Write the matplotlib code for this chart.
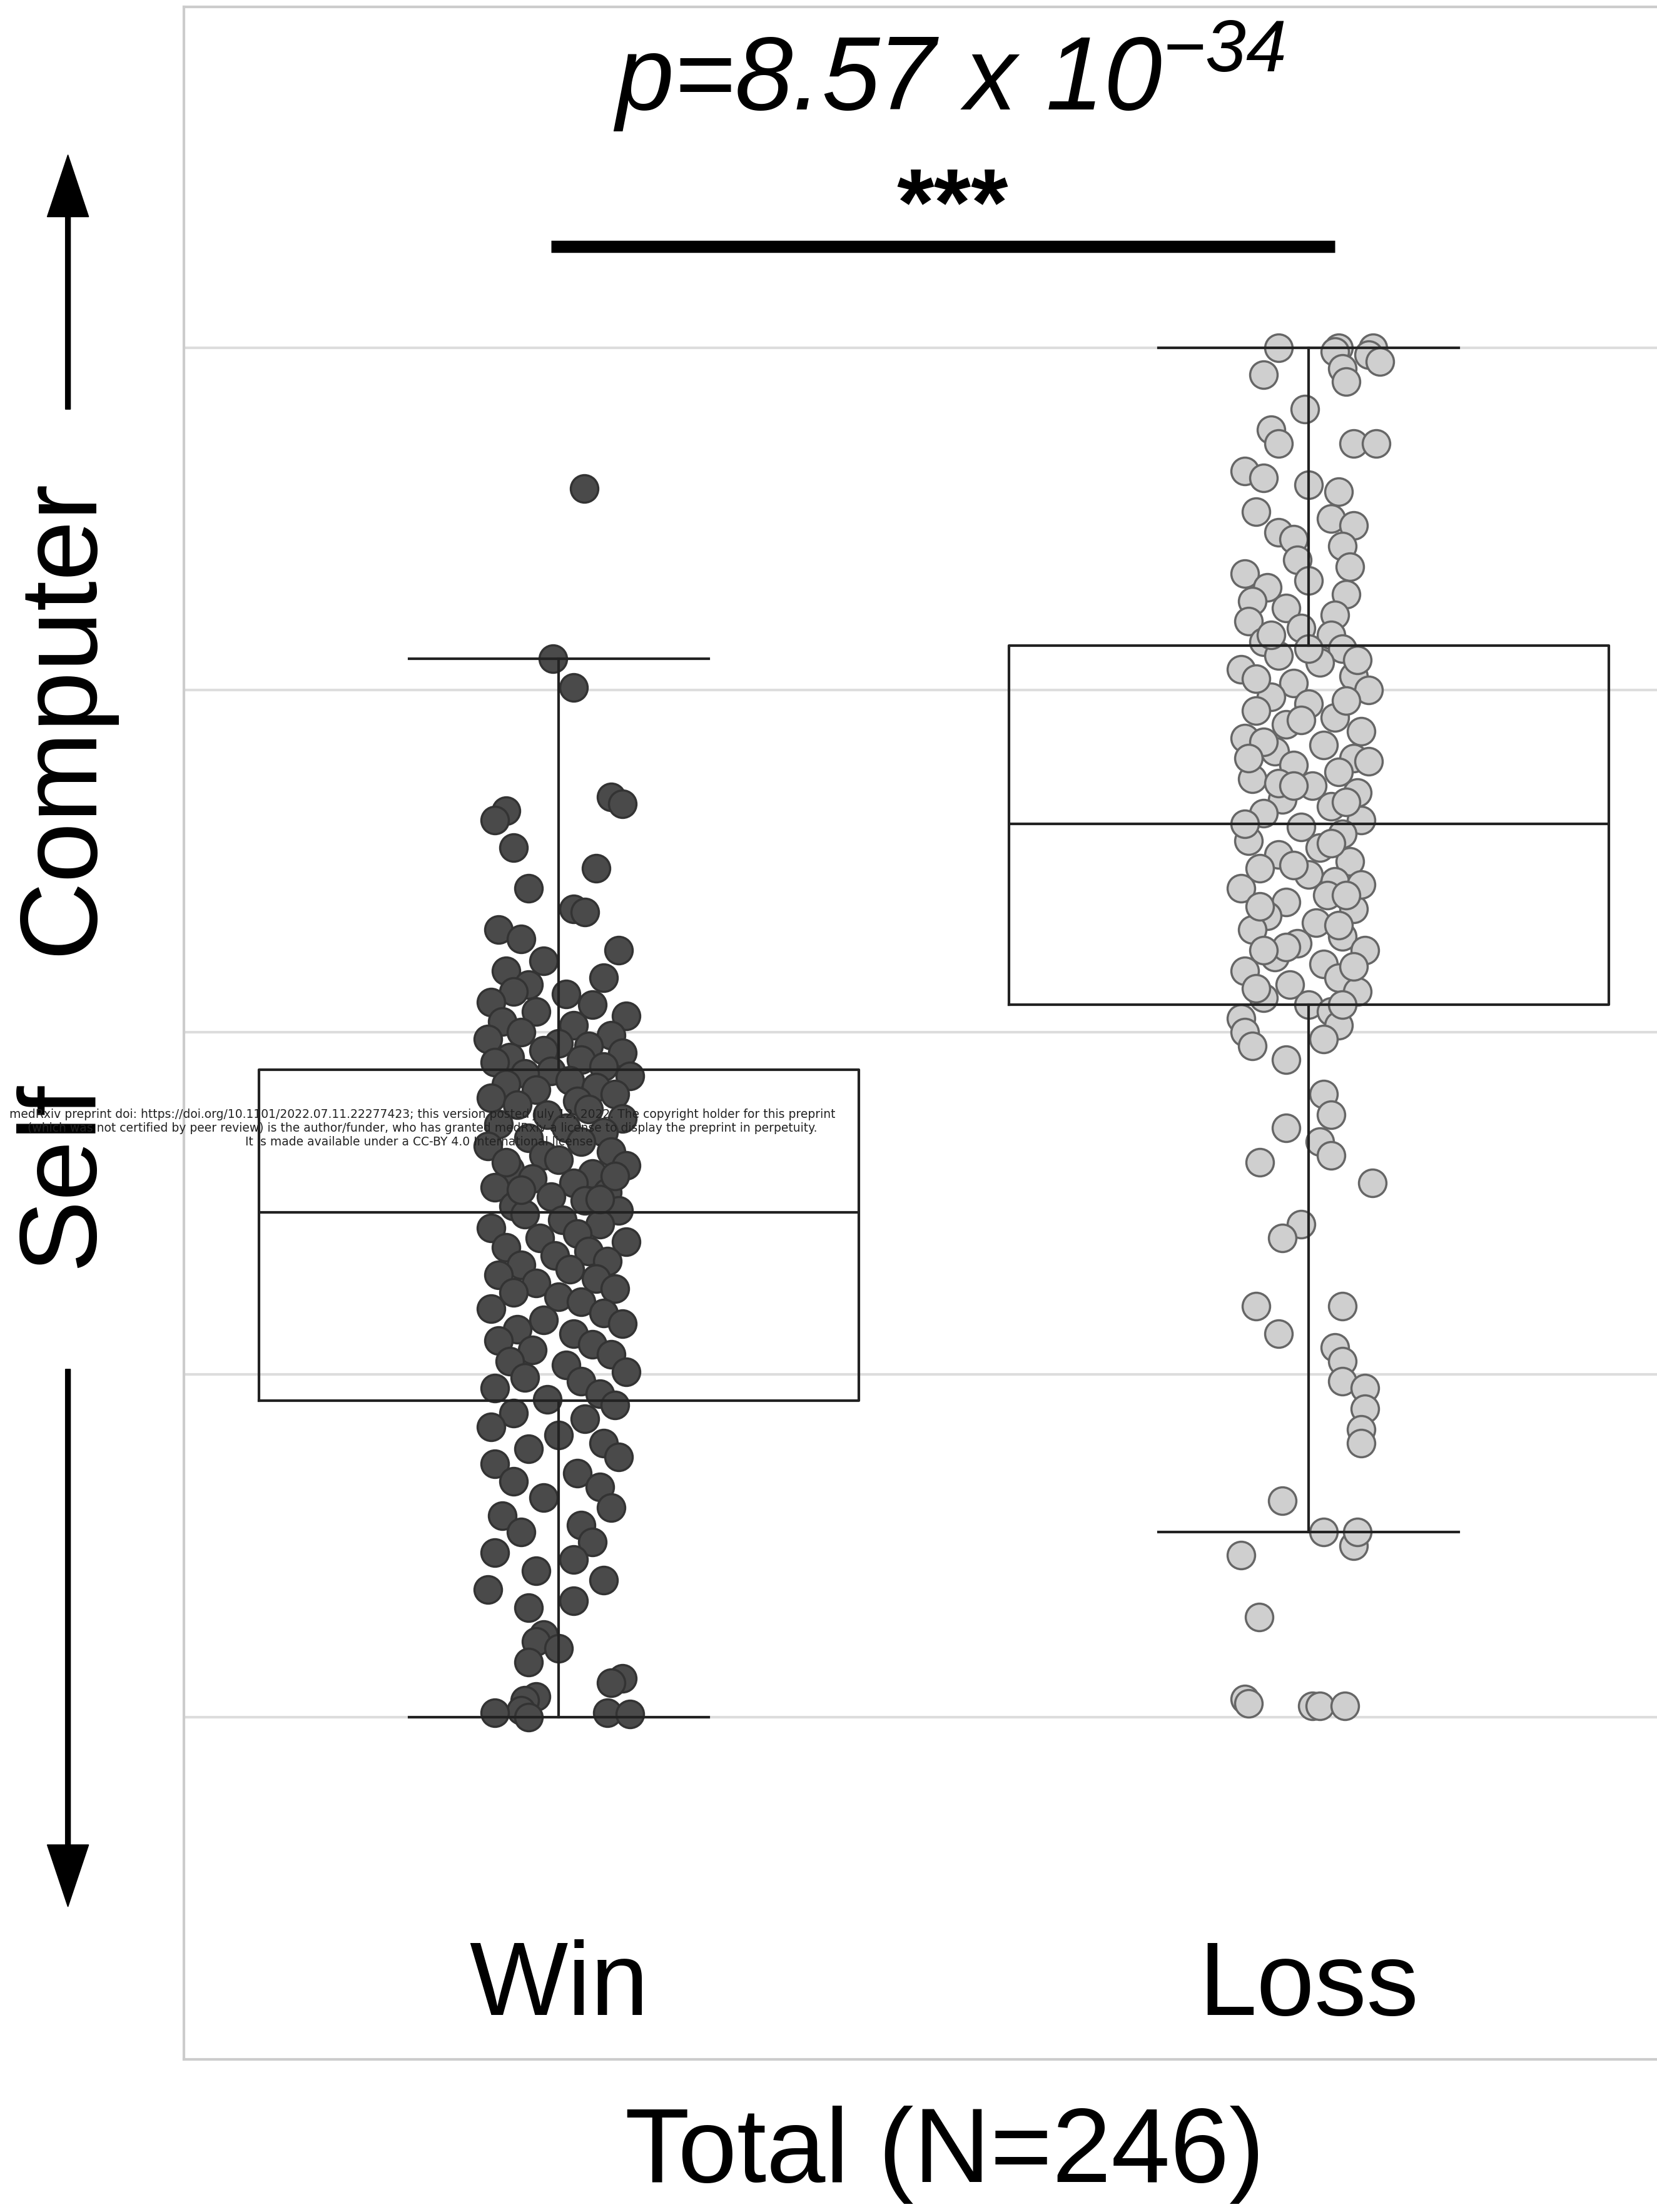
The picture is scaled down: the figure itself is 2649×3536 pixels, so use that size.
import numpy as np
import matplotlib
matplotlib.use("Agg")
import matplotlib.pyplot as plt

plt.rcParams['font.family'] = ['Liberation Sans', 'DejaVu Sans']
plt.rcParams['mathtext.fontset'] = 'custom'
plt.rcParams['mathtext.rm'] = 'Liberation Sans:italic'
plt.rcParams['mathtext.it'] = 'Liberation Sans:italic'

categories = ['Win', 'Loss']

# (value, horizontal jitter)
win_pts = [
    (0.897, 0.034), (0.752, 0.02), (0.773, -0.008),
    (0.672, 0.07), (0.667, 0.085), (0.662, -0.07), (0.655, -0.085), (0.635, -0.06), (0.62, 0.05),
    (0.605, -0.04), (0.59, 0.02), (0.588, 0.035), (0.575, -0.08), (0.568, -0.05), (0.56, 0.08),
    (0.552, -0.02), (0.545, -0.07), (0.54, 0.06),
    (0.535, -0.04), (0.53, -0.06), (0.528, 0.01), (0.522, -0.09), (0.52, 0.045), (0.515, -0.03),
    (0.512, 0.09), (0.508, -0.075), (0.505, 0.02), (0.5, -0.05), (0.498, 0.07), (0.495, -0.095),
    (0.492, 0.0), (0.49, 0.04), (0.487, -0.02), (0.485, 0.085), (0.482, -0.065), (0.48, 0.03),
    (0.478, -0.085), (0.475, 0.06), (0.472, -0.01), (0.47, -0.045), (0.468, 0.095), (0.465, 0.015),
    (0.462, -0.07), (0.46, 0.05), (0.458, -0.03), (0.455, 0.075), (0.452, -0.09), (0.45, 0.025),
    (0.447, -0.055), (0.444, 0.04), (0.44, -0.015), (0.437, 0.085), (0.433, -0.08), (0.43, 0.01),
    (0.427, 0.06), (0.423, -0.04), (0.42, 0.03), (0.417, -0.095), (0.413, 0.07), (0.41, -0.02),
    (0.407, 0.0), (0.403, 0.09), (0.4, -0.065), (0.397, 0.045), (0.393, -0.035), (0.39, 0.02),
    (0.387, -0.085), (0.383, 0.065), (0.38, -0.01), (0.377, 0.035), (0.373, -0.06), (0.37, 0.08),
    (0.367, -0.045), (0.363, 0.005), (0.36, 0.055), (0.357, -0.09), (0.353, 0.025), (0.35, -0.025),
    (0.347, 0.09), (0.343, -0.07), (0.34, 0.04), (0.337, -0.005), (0.333, 0.065), (0.33, -0.05),
    (0.327, 0.015), (0.323, -0.08), (0.32, 0.05), (0.317, -0.03), (0.313, 0.075), (0.31, -0.06),
    (0.307, 0.0), (0.303, 0.03), (0.405, -0.07), (0.395, 0.075), (0.385, -0.05), (0.378, 0.055),
    (0.298, -0.09), (0.295, 0.06), (0.29, -0.02), (0.287, 0.085), (0.283, -0.055), (0.28, 0.02),
    (0.275, -0.08), (0.272, 0.045), (0.268, -0.035), (0.265, 0.07), (0.26, -0.065), (0.257, 0.01),
    (0.252, 0.09), (0.248, -0.045), (0.245, 0.03), (0.24, -0.085), (0.236, 0.055), (0.232, -0.015),
    (0.228, 0.075), (0.222, -0.06), (0.218, 0.035), (0.212, -0.09), (0.206, 0.0), (0.2, 0.06),
    (0.196, -0.04), (0.19, 0.08), (0.185, -0.085), (0.178, 0.025), (0.172, -0.06), (0.168, 0.055),
    (0.16, -0.02), (0.153, 0.07), (0.147, -0.075), (0.14, 0.03), (0.135, -0.05), (0.128, 0.045),
    (0.12, -0.085), (0.115, 0.02), (0.107, -0.03), (0.1, 0.06),
    (0.093, -0.095), (0.085, 0.02), (0.08, -0.04), (0.06, -0.02), (0.055, -0.03), (0.05, 0.0),
    (0.04, -0.04), (0.028, 0.085), (0.025, 0.07), (0.015, -0.03), (0.012, -0.045), (0.005, -0.05),
    (0.003, -0.085), (0.003, 0.065), (0.002, 0.095), (0.0, -0.04),
]

loss_pts = [
    (1.0, -0.04), (1.0, 0.04), (1.0, 0.086), (0.997, 0.035), (0.995, 0.08), (0.99, 0.095),
    (0.985, 0.045), (0.98, -0.06), (0.975, 0.05), (0.955, -0.005), (0.94, -0.05), (0.93, -0.04),
    (0.93, 0.06), (0.93, 0.09), (0.91, -0.085), (0.905, -0.06), (0.9, 0.0), (0.895, 0.04),
    (0.88, -0.07), (0.875, 0.03), (0.87, 0.06), (0.865, -0.04), (0.86, -0.02), (0.855, 0.045),
    (0.845, -0.015), (0.84, 0.055), (0.835, -0.085), (0.83, 0.0), (0.825, -0.055), (0.82, 0.05),
    (0.815, -0.075), (0.81, -0.03), (0.805, 0.035), (0.8, -0.08), (0.795, -0.01), (0.79, 0.03),
    (0.785, -0.06), (0.78, 0.045), (0.775, -0.04), (0.77, 0.015), (0.765, -0.09), (0.76, 0.06),
    (0.755, -0.02), (0.75, 0.08), (0.745, -0.05), (0.74, 0.0), (0.735, -0.07), (0.73, 0.035),
    (0.725, -0.03), (0.72, 0.07), (0.715, -0.085), (0.71, 0.02), (0.705, -0.045), (0.7, 0.06),
    (0.695, -0.02), (0.69, 0.04), (0.685, -0.075), (0.68, 0.005), (0.675, 0.065), (0.67, -0.035),
    (0.665, 0.03), (0.66, -0.06), (0.655, 0.07), (0.65, -0.01), (0.645, 0.045), (0.64, -0.08),
    (0.635, 0.015), (0.63, -0.04), (0.625, 0.055), (0.62, -0.065), (0.615, 0.0), (0.61, 0.035),
    (0.605, -0.09), (0.6, 0.025), (0.595, -0.03), (0.59, 0.06), (0.585, -0.055), (0.58, 0.01),
    (0.575, -0.075), (0.57, 0.045), (0.565, -0.015), (0.56, 0.075), (0.555, -0.045), (0.55, 0.02),
    (0.545, -0.085), (0.54, 0.04), (0.535, -0.025), (0.53, 0.065), (0.525, -0.06), (0.52, 0.0),
    (0.515, 0.03), (0.51, -0.09), (0.505, 0.04),
    (0.79, -0.05), (0.772, 0.065), (0.758, -0.07), (0.742, 0.05), (0.728, -0.01), (0.712, -0.06),
    (0.698, 0.08), (0.682, -0.04), (0.668, 0.05), (0.652, -0.085), (0.638, 0.03), (0.622, -0.02),
    (0.608, 0.07), (0.592, -0.065), (0.578, 0.04), (0.562, -0.03), (0.548, 0.06), (0.532, -0.07),
    (0.52, 0.045), (0.78, 0.0), (0.68, -0.02), (0.6, 0.05), (0.56, -0.06), (0.7, -0.08),
    (0.5, -0.085), (0.495, 0.02), (0.49, -0.075), (0.48, -0.03), (0.455, 0.02), (0.44, 0.03),
    (0.43, -0.03), (0.42, 0.015), (0.41, 0.03), (0.405, -0.065), (0.39, 0.085), (0.36, -0.01),
    (0.35, -0.035), (0.3, -0.07), (0.28, -0.04), (0.3, 0.045), (0.27, 0.035), (0.26, 0.045),
    (0.245, 0.045), (0.24, 0.075), (0.225, 0.075), (0.21, 0.07), (0.2, 0.07),
    (0.158, -0.035), (0.118, -0.09), (0.135, 0.02), (0.125, 0.06), (0.135, 0.065),
    (0.073, -0.066), (0.013, -0.085), (0.008, 0.005), (0.008, 0.015), (0.008, 0.048), (0.01, -0.08),
]

point_colors = ['#4a4a4a', '#cfcfcf']
edge_colors = ['#333333', '#666666']

fig = plt.figure(figsize=(26.49, 35.36), dpi=100)
ax = fig.add_axes([0.111, 0.069, 0.905, 0.928])

ax.set_xlim(-0.5, 1.5)
ax.set_ylim(-0.25, 1.249)
for g in [0, 0.25, 0.5, 0.75, 1.0]:
    ax.axhline(g, color='#dddddd', lw=3, zorder=0)

for i, pts in enumerate([win_pts, loss_pts]):
    ys = np.array([p[0] for p in pts])
    xs = i + np.array([p[1] for p in pts])
    ax.scatter(xs, ys, s=1000, c=point_colors[i], edgecolors=edge_colors[i],
               linewidths=2.5, zorder=2)

data = [np.array([p[0] for p in win_pts]), np.array([p[0] for p in loss_pts])]
ax.boxplot(data, positions=[0, 1], widths=0.8, whis=1.5, showfliers=False,
           boxprops=dict(color='#222222', lw=3),
           medianprops=dict(color='#222222', lw=3),
           whiskerprops=dict(color='#222222', lw=3),
           capprops=dict(color='#222222', lw=3),
           zorder=3)

ax.set_xticks([])
ax.set_yticks([])
for s in ['top', 'bottom', 'left', 'right']:
    ax.spines[s].set_color('#cccccc')
    ax.spines[s].set_linewidth(3)

for i, c in enumerate(categories):
    ax.text(i, -0.198, c, ha='center', va='center', fontsize=120)

ax.plot([-0.01, 1.035], [1.074, 1.074], color='black', lw=14, solid_capstyle='butt')
ax.text(0.52, 1.100, '***', ha='center', va='center', fontsize=110,
        fontweight='bold', style='italic')
ax.text(0.52, 1.198, '$p$=8.57 x 10$^{-34}$', ha='center', va='center',
        fontsize=120, style='italic')

fig.text(0.57, 0.026, 'Total (N=246)', ha='center', va='center', fontsize=122)

fig.text(0.038, 0.676, 'Computer', rotation=90, ha='center', va='center', fontsize=125)
fig.text(0.038, 0.469, 'Self', rotation=90, ha='center', va='center', fontsize=125)
fig.add_artist(matplotlib.patches.FancyArrow(0.041, 0.815, 0, 0.115, width=0.003,
               head_width=0.025, head_length=0.028, length_includes_head=True,
               color='black', transform=fig.transFigure))
fig.add_artist(matplotlib.patches.FancyArrow(0.041, 0.381, 0, -0.243, width=0.003,
               head_width=0.025, head_length=0.028, length_includes_head=True,
               color='black', transform=fig.transFigure))

fig.text(0.255, 0.49, 'medRxiv preprint doi: https://doi.org/10.1101/2022.07.11.22277423; this version posted July 12, 2022. '
         'The copyright holder for this preprint\n(which was not certified by peer review) is the author/funder, '
         'who has granted medRxiv a license to display the preprint in perpetuity.\n'
         'It is made available under a CC-BY 4.0 International license .',
         ha='center', va='center', fontsize=13.5, color='#222222', family='DejaVu Sans')

fig.savefig('out.png', dpi=100)
